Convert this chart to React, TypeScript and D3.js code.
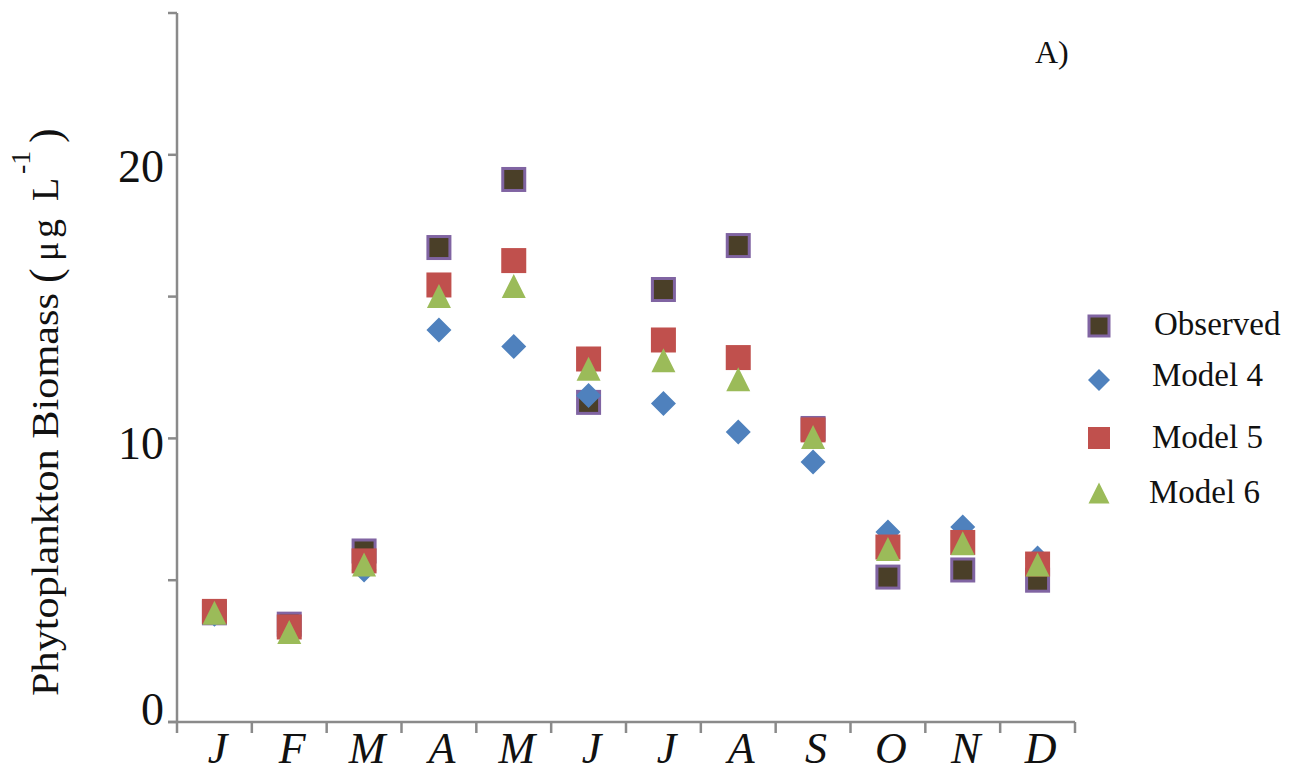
import React from "react";
import * as d3 from "d3";

// Months along the x axis
const months = ["J", "F", "M", "A", "M", "J", "J", "A", "S", "O", "N", "D"];

// Phytoplankton biomass (µg L-1) per month
const observed = [3.85, 3.45, 6.03, 16.73, 19.13, 11.27, 15.25, 16.8, 10.35, 5.11, 5.36, 5.0];
const model4 = [3.8, 3.2, 5.36, 13.82, 13.24, 11.51, 11.23, 10.23, 9.17, 6.7, 6.88, 5.78];
const model5 = [3.9, 3.35, 5.68, 15.41, 16.27, 12.8, 13.47, 12.85, 10.3, 6.17, 6.33, 5.57];
const model6 = [3.85, 3.17, 5.55, 15.02, 15.37, 12.46, 12.76, 12.09, 10.05, 6.1, 6.3, 5.55];

const yTicks = [0, 5, 10, 15, 20, 25];
const yLabels = [0, 10, 20];

const legendNames = ["Observed", "Model 4", "Model 5", "Model 6"];

const COLORS = {
  axis: "#8a8a8a",
  obsFill: "#4a3f28",
  obsStroke: "#8064a2",
  m4: "#4f81bd",
  m5: "#c0504d",
  m6: "#9bbb59",
};

const FONT = "'Liberation Serif', 'Times New Roman', serif";

const X0 = 177;
const X1 = 1075;
const Y0 = 722;
const Y1 = 13;

const x = d3.scaleBand<number>().domain(d3.range(months.length)).range([X0, X1]).padding(0);
const y = d3.scaleLinear().domain([0, 25]).range([Y0, Y1]);

const cx = (i: number) => (x(i) as number) + x.bandwidth() / 2;

function ObservedMark({ px, py, s = 25 }: { px: number; py: number; s?: number }) {
  const inner = s - 3;
  return (
    <rect
      x={px - inner / 2}
      y={py - inner / 2}
      width={inner}
      height={inner}
      fill={COLORS.obsFill}
      stroke={COLORS.obsStroke}
      strokeWidth={3}
    />
  );
}

function DiamondMark({ px, py, r = 12.5 }: { px: number; py: number; r?: number }) {
  return (
    <path
      d={`M${px},${py - r}L${px + r},${py}L${px},${py + r}L${px - r},${py}Z`}
      fill={COLORS.m4}
    />
  );
}

function SquareMark({ px, py, s = 25 }: { px: number; py: number; s?: number }) {
  return <rect x={px - s / 2} y={py - s / 2} width={s} height={s} fill={COLORS.m5} />;
}

function TriangleMark({ px, py, s = 24 }: { px: number; py: number; s?: number }) {
  const h = s;
  return (
    <path
      d={`M${px},${py - h / 2}L${px + s / 2},${py + h / 2}L${px - s / 2},${py + h / 2}Z`}
      fill={COLORS.m6}
    />
  );
}

const labelOffset: Record<number, number> = { 0: 3, 10: 21, 20: 27 };

// Rotated axis title: pieces laid out along the (upward) baseline.
// Each x is minus the page y where that piece starts.
function AxisTitle() {
  const common = { fontFamily: FONT, fill: "#111" };
  return (
    <g transform="translate(58,0) rotate(-90)">
      <text x={-696} y={0} fontSize={38} textLength={403} lengthAdjust="spacingAndGlyphs" {...common}>
        Phytoplankton Biomass
      </text>
      <text x={-283} y={2} fontSize={44} {...common}>
        (
      </text>
      <text x={-261} y={0} fontSize={36} {...common}>
        μ
      </text>
      <text x={-238} y={0} fontSize={38} {...common}>
        g
      </text>
      <text x={-201} y={0} fontSize={38} {...common}>
        L
      </text>
      <text x={-174} y={-28} fontSize={28} {...common}>
        -1
      </text>
      <text x={-143} y={2} fontSize={44} {...common}>
        )
      </text>
    </g>
  );
}

export default function App() {
  const boundaries = d3.range(months.length + 1).map((i) =>
    i < months.length ? (x(i) as number) : X1
  );

  const legendY = [326, 380, 438, 493];
  const legendTextX = [1154, 1152, 1152, 1149];
  const legendBase = [335, 386, 448, 503];

  return (
    <div style={{ position: "absolute", left: 0, top: 0 }}>
      <svg width={1291} height={776} style={{ display: "block", background: "#fff" }}>
        {/* y axis */}
        <line x1={X0} x2={X0} y1={Y1} y2={Y0} stroke={COLORS.axis} strokeWidth={2.5} />
        {yTicks.map((t) => (
          <line key={t} x1={X0 - 9} x2={X0} y1={y(t)} y2={y(t)} stroke={COLORS.axis} strokeWidth={2.5} />
        ))}
        {yLabels.map((t) => (
          <text
            key={t}
            x={164}
            y={y(t) + labelOffset[t]}
            textAnchor="end"
            fontFamily={FONT}
            fontSize={46}
            fill="#111"
          >
            {t}
          </text>
        ))}

        {/* x axis */}
        <line x1={X0 - 9} x2={X1} y1={Y0} y2={Y0} stroke={COLORS.axis} strokeWidth={2.5} />
        {boundaries.map((bx, i) => (
          <line key={i} x1={bx} x2={bx} y1={Y0} y2={Y0 + 11} stroke={COLORS.axis} strokeWidth={2.5} />
        ))}
        {months.map((m, i) => (
          <text
            key={i}
            x={cx(i) + 3}
            y={763}
            textAnchor="middle"
            fontFamily={FONT}
            fontStyle="italic"
            fontSize={44}
            fill="#111"
          >
            {m}
          </text>
        ))}

        <AxisTitle />

        {/* panel label */}
        <text x={1035} y={63} fontFamily={FONT} fontSize={32} fill="#111">
          A)
        </text>

        {/* data marks */}
        <g>
          {observed.map((v, i) => (
            <ObservedMark key={"o" + i} px={cx(i)} py={y(v)} />
          ))}
          {model4.map((v, i) => (
            <DiamondMark key={"d" + i} px={cx(i)} py={y(v)} />
          ))}
          {model5.map((v, i) => (
            <SquareMark key={"s" + i} px={cx(i)} py={y(v)} />
          ))}
          {model6.map((v, i) => (
            <TriangleMark key={"t" + i} px={cx(i)} py={y(v)} />
          ))}
        </g>

        {/* legend */}
        <g>
          <ObservedMark px={1099} py={legendY[0]} s={23} />
          <DiamondMark px={1099} py={legendY[1]} r={11} />
          <SquareMark px={1099} py={legendY[2]} s={22} />
          <TriangleMark px={1099} py={legendY[3]} s={21} />
          {legendNames.map((n, i) => (
            <text
              key={n}
              x={legendTextX[i]}
              y={legendBase[i]}
              fontFamily={FONT}
              fontSize={33}
              fill="#111"
            >
              {n}
            </text>
          ))}
        </g>
      </svg>
    </div>
  );
}
